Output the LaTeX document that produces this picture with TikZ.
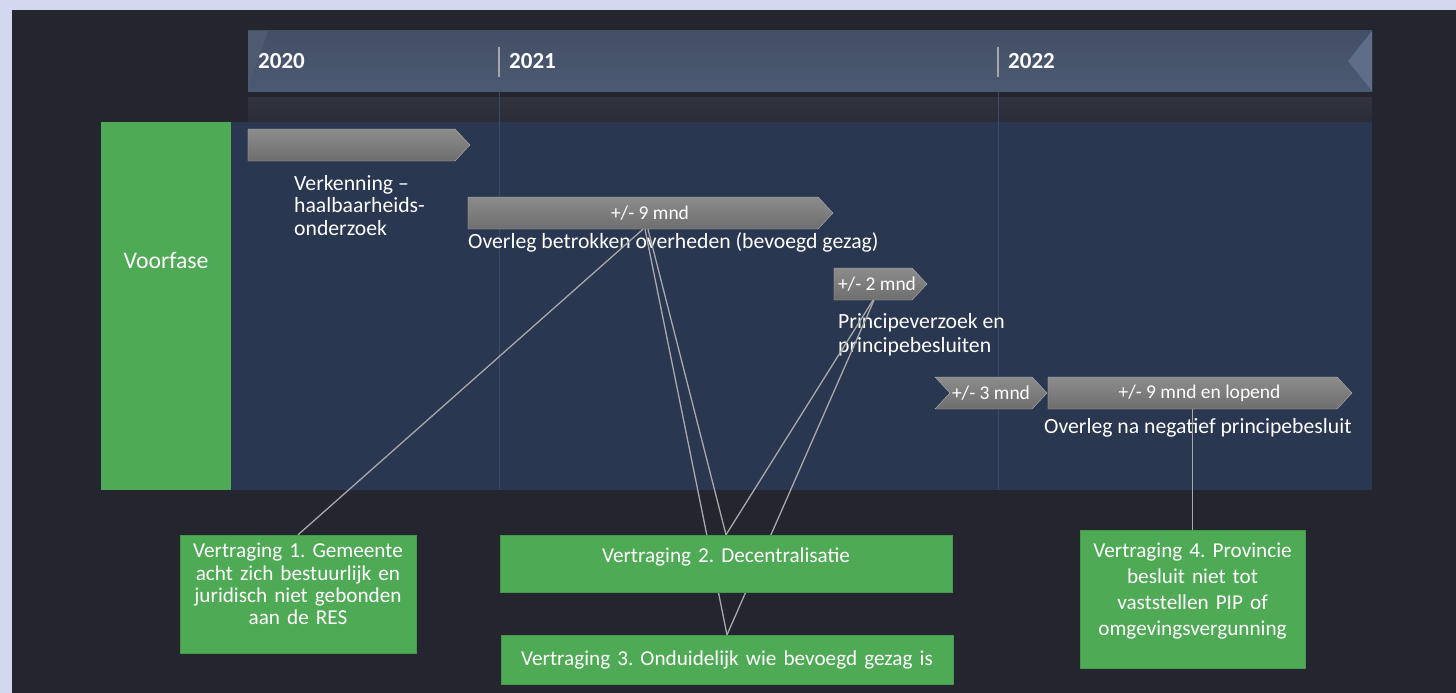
\documentclass[tikz,border=0pt]{standalone}
\usepackage{fontspec}
\setmainfont{Carlito}
\usepackage{xcolor}
\usetikzlibrary{shapes,shapes.symbols,arrows,positioning}

\definecolor{outerbg}{HTML}{D4D8EE}
\definecolor{darkbg}{HTML}{25252F}
\definecolor{hdrtop}{HTML}{434F64}
\definecolor{hdrbot}{HTML}{4B5A73}
\definecolor{hdrbevel}{HTML}{5E6D88}
\definecolor{striptop}{HTML}{31333F}
\definecolor{stripbot}{HTML}{2A2C37}
\definecolor{panelblue}{HTML}{2A3750}
\definecolor{gridblue}{HTML}{3B4A68}
\definecolor{vgreen}{HTML}{4FAA55}
\definecolor{vgreendark}{HTML}{449A4A}
\definecolor{barhi}{HTML}{8C8C8C}
\definecolor{barlo}{HTML}{6E6E6E}
\definecolor{linkgray}{HTML}{A8A8A8}

\pgfdeclarelayer{foreground}
\pgfsetlayers{main,foreground}

\begin{document}
\frenchspacing
\begin{tikzpicture}[x=1pt, y=-1pt, font=\fontsize{21.7}{22.3}\selectfont,
  bar/.style={signal, signal to=east, signal pointer angle=94, minimum height=32pt, inner sep=0pt, top color=barhi, bottom color=barlo, draw=barhi!70!white, line width=0.4pt, text=white, font=\fontsize{19.5}{22}\selectfont},
  year/.style={anchor=base west, text=white, inner sep=0pt, font=\bfseries\fontsize{23}{26}\selectfont},
  lbl/.style={anchor=base west, text=white, align=left, inner sep=0pt},
  delay/.style={rectangle, fill=vgreen, draw=vgreendark, text=white, align=center, inner sep=0pt, font=\fontsize{21.2}{22.3}\selectfont},
  link/.style={draw=linkgray, line width=1.3pt}]
\useasboundingbox (0,0) rectangle (1456,693);

% Background and time axis
\fill[outerbg] (0,0) rectangle (1456,693);
\fill[darkbg] (12,10) rectangle (1456,693);
\fill[top color=hdrtop, bottom color=hdrbot] (248,31) rectangle (1372,91);
\fill[hdrbevel] (1348,61) -- (1372,31) -- (1372,91) -- cycle;
\fill[hdrbevel!40!hdrtop] (248,31) -- (268,31) -- (248,88) -- cycle;
\fill[top color=striptop, bottom color=stripbot] (248,97) rectangle (1372,122);
\fill[panelblue] (231,122) rectangle (1372,490);
\draw[gridblue, line width=1pt] (499,91) -- (499,490) (998,91) -- (998,490);
\draw[gray!70, line width=1.5pt] (499,47) -- (499,77) (998,47) -- (998,77);

% Define nodes
\node[year] (y2020) at (258,69) {2020};
\node[year] (y2021) at (509,69) {2021};
\node[year] (y2022) at (1008,69) {2022};

\node[rectangle, fill=vgreen, text=white, minimum width=130pt, minimum height=368pt, text width=124pt, align=center, inner sep=0pt, font=\fontsize{23.7}{26}\selectfont] (voorfase) at (166,306) {Voorfase\par\vspace{92pt}};

\node[bar, minimum width=222pt] (verkenning) at (351.5,145) {};
\node[bar, minimum width=365pt] (overleg) at (643,213) {\hspace*{14pt}+/- 9 mnd};
\node[bar, minimum width=93pt] (principe) at (873,284) {\hspace*{4pt}+/- 2 mnd\hspace*{-4pt}};
\node[bar, signal from=west, minimum width=112pt] (wachten) at (991,393) {+/- 3 mnd};
\node[bar, minimum width=304pt] (naoverleg) at (1192.5,393) {\hspace*{14pt}+/- 9 mnd en lopend};

\node[lbl] (verkenninglbl) at (294,235) {Verkenning –\\haalbaarheids-\\onderzoek};
\node[lbl] (overleglbl) at (468,248) {Overleg betrokken overheden (bevoegd gezag)};
\node[lbl, font=\fontsize{21.7}{24}\selectfont] (principelbl) at (838,352) {Principeverzoek en\\principebesluiten};
\node[lbl] (naoverleglbl) at (1044,433) {Overleg na negatief principebesluit};

\begin{pgfonlayer}{foreground}
\node[delay, minimum width=236pt, minimum height=118pt, text width=232pt] (vertraging1) at (298,594) {Vertraging 1. Gemeente\\acht zich bestuurlijk en\\juridisch niet gebonden\\aan de RES\par\vspace{20pt}};
\node[delay, minimum width=452pt, minimum height=57pt, text width=440pt] (vertraging2) at (726,563.5) {Vertraging 2. Decentralisatie\par\vspace{13pt}};
\node[delay, minimum width=452pt, minimum height=49pt, text width=440pt] (vertraging3) at (727,659.5) {Vertraging 3. Onduidelijk wie bevoegd gezag is};
\node[delay, minimum width=225pt, minimum height=138pt, text width=221pt, font=\fontsize{21.2}{26}\selectfont] (vertraging4) at (1192.5,599) {Vertraging 4. Provincie\\besluit niet tot\\vaststellen PIP of\\omgevingsvergunning\par\vspace{16pt}};
\end{pgfonlayer}

% Draw links
\draw[link] (overleg.south) -- (vertraging1.north);
\draw[link] ([xshift=2pt]overleg.south) -- (vertraging3.north);
\draw[link] ([xshift=5pt]overleg.south) -- (vertraging2.north);
\draw[link] (principe.south) -- (vertraging2.north);
\draw[link] ([xshift=1pt]principe.south) -- (vertraging3.north);
\draw[link] (vertraging4.north |- naoverleg.south) -- (vertraging4.north);
\end{tikzpicture}
\end{document}
